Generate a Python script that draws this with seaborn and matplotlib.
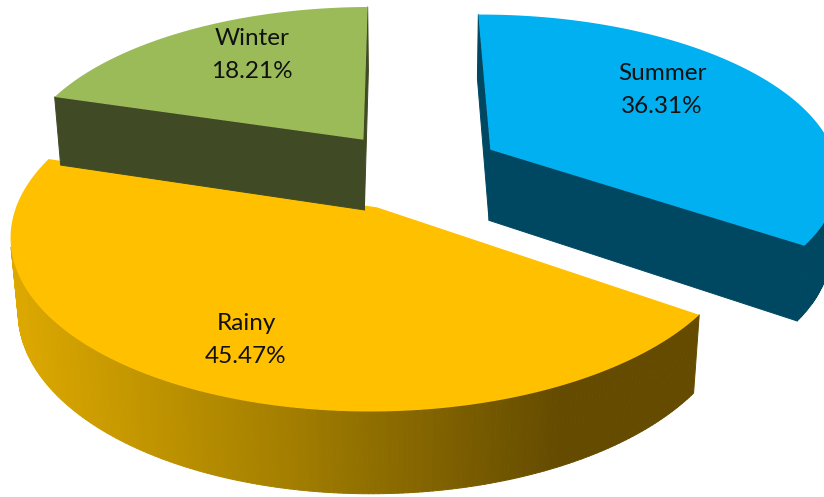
import numpy as np
import matplotlib
matplotlib.use("Agg")
import matplotlib.pyplot as plt
from matplotlib.collections import PolyCollection
from matplotlib.colors import LinearSegmentedColormap, to_rgba
import seaborn as sns

seasons = ["Summer", "Rainy", "Winter"]
shares = [36.31, 45.47, 18.21]
top_colors = ["#00B0F0", "#FFC000", "#9BBB59"]
side_colors = ["#004762", "#644B00", "#404A24"]
label_xy = [(662, 90), (246, 340), (252, 55)]

sns.set_theme(style="white")
plt.rcParams["font.family"] = ["Lato", "DejaVu Sans"]

# projection of the exploded pie onto the picture
CX, CY, B, A, P, C, Q = 417, 170, 349, 161, 0.15, 73, 0.018

def project(x, y, d=0.0):
    w = 1 + P * y + Q * d
    return np.column_stack([CX + B * x / w, CY - (A * y - C * d) / w])

def warp(theta):
    # the rendered 3D view bends the pie's far side slightly
    theta = (np.asarray(theta) + 34.3) % 360 - 34.3
    return np.interp(theta, [-34.3, 96.4, 162.0, 325.7], [-34.3, 90.5, 163.0, 325.4])

# wedge geometry comes from matplotlib's pie
helper_fig, helper_ax = plt.subplots()
wedges, _ = helper_ax.pie(shares, explode=[0.25] * 3, startangle=96.4, counterclock=False)
plt.close(helper_fig)

fig = plt.figure(figsize=(8.24, 4.97), dpi=100)
ax = fig.add_axes([0, 0, 1, 1])
ax.set_xlim(0, 824)
ax.set_ylim(497, 0)
ax.axis("off")

gradient = LinearSegmentedColormap.from_list(
    "rainy", [(0, "#E0AB00"), (0.34, "#A58000"), (0.68, "#644B00"), (1, "#644B00")])

for i, wedge in enumerate(wedges):
    cx, cy = wedge.center
    t1, t2 = wedge.theta1, wedge.theta2
    # keep the wedge ends on their own side of the warp seam
    t = np.radians(warp(np.linspace(t1 + 1e-6, t2 - 1e-6, 240)))
    px = np.r_[cx, cx + np.cos(t)]
    py = np.r_[cy, cy + np.sin(t)]
    top = project(px, py)
    bottom = project(px, py, 1.0)
    # orientation of the top outline decides which side walls face the viewer
    sign = np.sign(np.sum(top[:, 0] * np.roll(top[:, 1], -1) - np.roll(top[:, 0], -1) * top[:, 1]))
    quads, cols = [], []
    for a in range(len(top)):
        b = (a + 1) % len(top)
        q = [top[a], top[b], bottom[b], bottom[a]]
        qa = np.array(q)
        area = np.sum(qa[:, 0] * np.roll(qa[:, 1], -1) - np.roll(qa[:, 0], -1) * qa[:, 1])
        if area * sign < 0:
            quads.append(q)
            if seasons[i] == "Rainy":
                cols.append(gradient(np.clip(qa[:, 0].mean() / 824, 0, 1)))
            else:
                cols.append(to_rgba(side_colors[i]))
    ax.add_collection(PolyCollection(quads, facecolors=cols, edgecolors=cols, linewidths=0.7))
    ax.fill(top[:, 0], top[:, 1], color=top_colors[i], lw=0)

for name, val, (x, y) in zip(seasons, shares, label_xy):
    ax.text(x, y, f"{name}\n{val:.2f}%", ha="center", va="center", fontsize=17.5,
            color="#111111", linespacing=1.68)

fig.savefig("out.png", dpi=100)
